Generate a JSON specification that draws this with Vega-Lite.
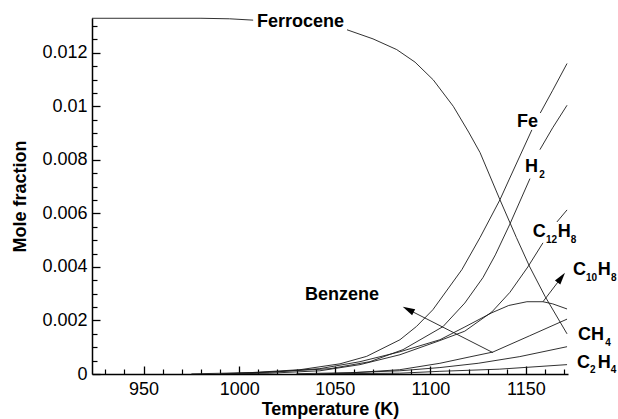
{
  "$schema": "https://vega.github.io/schema/vega-lite/v6.json",
  "width": 476,
  "height": 356,
  "autosize": {"type": "none"},
  "padding": {"left": 92, "top": 18, "right": 50, "bottom": 45},
  "config": {
    "view": {"stroke": null},
    "font": "Liberation Sans"
  },
  "datasets": {
    "curves": [
      {"k": "Ferrocene-a", "T": 923, "v": 0.01329},
      {"k": "Ferrocene-a", "T": 980, "v": 0.01329},
      {"k": "Ferrocene-a", "T": 995, "v": 0.01327},
      {"k": "Ferrocene-a", "T": 1007.3, "v": 0.01322},
      {"k": "Ferrocene-b", "T": 1056.4, "v": 0.01286},
      {"k": "Ferrocene-b", "T": 1070, "v": 0.01252},
      {"k": "Ferrocene-b", "T": 1082.4, "v": 0.01212},
      {"k": "Ferrocene-b", "T": 1092, "v": 0.01165},
      {"k": "Ferrocene-b", "T": 1101.5, "v": 0.01099},
      {"k": "Ferrocene-b", "T": 1112, "v": 0.0100},
      {"k": "Ferrocene-b", "T": 1120, "v": 0.00904},
      {"k": "Ferrocene-b", "T": 1126, "v": 0.00827},
      {"k": "Ferrocene-b", "T": 1136.4, "v": 0.00651},
      {"k": "Ferrocene-b", "T": 1145, "v": 0.0051},
      {"k": "Ferrocene-b", "T": 1152, "v": 0.0040},
      {"k": "Ferrocene-b", "T": 1160, "v": 0.0029},
      {"k": "Ferrocene-b", "T": 1171.5, "v": 0.0015},
      {"k": "Fe-a", "T": 975, "v": 0.000005},
      {"k": "Fe-a", "T": 1005.6, "v": 0.00005},
      {"k": "Fe-a", "T": 1031.8, "v": 0.00016},
      {"k": "Fe-a", "T": 1052.7, "v": 0.00038},
      {"k": "Fe-a", "T": 1066.7, "v": 0.00066},
      {"k": "Fe-a", "T": 1084.1, "v": 0.00128},
      {"k": "Fe-a", "T": 1092.8, "v": 0.00178},
      {"k": "Fe-a", "T": 1101.3, "v": 0.0024},
      {"k": "Fe-a", "T": 1116.5, "v": 0.0039},
      {"k": "Fe-a", "T": 1126, "v": 0.0051},
      {"k": "Fe-a", "T": 1136.4, "v": 0.00651},
      {"k": "Fe-a", "T": 1141.1, "v": 0.00725},
      {"k": "Fe-a", "T": 1153.1, "v": 0.00912},
      {"k": "Fe-b", "T": 1157.5, "v": 0.00975},
      {"k": "Fe-b", "T": 1164, "v": 0.0106},
      {"k": "Fe-b", "T": 1171.5, "v": 0.0116},
      {"k": "H2-a", "T": 995, "v": 0.00001},
      {"k": "H2-a", "T": 1021.3, "v": 0.00009},
      {"k": "H2-a", "T": 1047.5, "v": 0.0002},
      {"k": "H2-a", "T": 1068.4, "v": 0.00046},
      {"k": "H2-a", "T": 1085.7, "v": 0.00091},
      {"k": "H2-a", "T": 1106.6, "v": 0.00177},
      {"k": "H2-a", "T": 1118, "v": 0.00265},
      {"k": "H2-a", "T": 1127.5, "v": 0.0036},
      {"k": "H2-a", "T": 1134, "v": 0.00445},
      {"k": "H2-a", "T": 1141.6, "v": 0.0056},
      {"k": "H2-a", "T": 1152.1, "v": 0.0073},
      {"k": "H2-b", "T": 1157.3, "v": 0.00838},
      {"k": "H2-b", "T": 1164, "v": 0.0092},
      {"k": "H2-b", "T": 1171.5, "v": 0.01004},
      {"k": "C12H8-a", "T": 1000, "v": 0.00001},
      {"k": "C12H8-a", "T": 1016, "v": 0.00003},
      {"k": "C12H8-a", "T": 1042.2, "v": 0.00012},
      {"k": "C12H8-a", "T": 1063.2, "v": 0.00035},
      {"k": "C12H8-a", "T": 1084.1, "v": 0.00072},
      {"k": "C12H8-a", "T": 1105, "v": 0.00125},
      {"k": "C12H8-a", "T": 1118, "v": 0.0016},
      {"k": "C12H8-a", "T": 1132.2, "v": 0.00232},
      {"k": "C12H8-a", "T": 1141.6, "v": 0.00305},
      {"k": "C12H8-a", "T": 1151, "v": 0.004},
      {"k": "C12H8-a", "T": 1158.9, "v": 0.0049},
      {"k": "C12H8-b", "T": 1166.2, "v": 0.00568},
      {"k": "C12H8-b", "T": 1171.5, "v": 0.00613},
      {"k": "C10H8", "T": 990, "v": 0.00001},
      {"k": "C10H8", "T": 1016, "v": 0.00007},
      {"k": "C10H8", "T": 1042.2, "v": 0.0002},
      {"k": "C10H8", "T": 1063.2, "v": 0.00046},
      {"k": "C10H8", "T": 1084.1, "v": 0.00083},
      {"k": "C10H8", "T": 1105, "v": 0.00128},
      {"k": "C10H8", "T": 1118.1, "v": 0.00176},
      {"k": "C10H8", "T": 1132.2, "v": 0.00229},
      {"k": "C10H8", "T": 1141, "v": 0.00256},
      {"k": "C10H8", "T": 1150.5, "v": 0.0027},
      {"k": "C10H8", "T": 1158.9, "v": 0.0027},
      {"k": "C10H8", "T": 1164, "v": 0.00262},
      {"k": "C10H8", "T": 1171.5, "v": 0.00243},
      {"k": "Benzene", "T": 1040, "v": 0.0},
      {"k": "Benzene", "T": 1058, "v": 0.00004},
      {"k": "Benzene", "T": 1084, "v": 0.00016},
      {"k": "Benzene", "T": 1105, "v": 0.0004},
      {"k": "Benzene", "T": 1120.7, "v": 0.00064},
      {"k": "Benzene", "T": 1132.7, "v": 0.00082},
      {"k": "Benzene", "T": 1152, "v": 0.00143},
      {"k": "Benzene", "T": 1171.5, "v": 0.00205},
      {"k": "CH4", "T": 1030, "v": 0.00001},
      {"k": "CH4", "T": 1058, "v": 0.00005},
      {"k": "CH4", "T": 1084, "v": 0.00012},
      {"k": "CH4", "T": 1105, "v": 0.00024},
      {"k": "CH4", "T": 1125, "v": 0.0004},
      {"k": "CH4", "T": 1146.8, "v": 0.00065},
      {"k": "CH4", "T": 1171.5, "v": 0.00102},
      {"k": "C2H4", "T": 1050, "v": 0.00001},
      {"k": "C2H4", "T": 1084, "v": 0.00003},
      {"k": "C2H4", "T": 1105, "v": 0.0001},
      {"k": "C2H4", "T": 1136, "v": 0.00018},
      {"k": "C2H4", "T": 1171.5, "v": 0.00035}
    ],
    "arrows": [
      {"k": "benz", "T": 1132.7, "v": 0.0008},
      {"k": "benz", "T": 1088.4, "v": 0.00241},
      {"k": "c10", "T": 1158.9, "v": 0.0027},
      {"k": "c10", "T": 1168.5, "v": 0.0036}
    ],
    "heads": [
      {"k": "benz", "T": 1088.4, "v": 0.00241},
      {"k": "c10", "T": 1168.5, "v": 0.0036}
    ],
    "labels": [
      {"label": "Ferrocene", "T": 1009.3, "v": 0.01298},
      {"label": "Fe", "T": 1145.3, "v": 0.00924},
      {"label": "H", "T": 1149.5, "v": 0.00756},
      {"label": "C", "T": 1153.6, "v": 0.00513},
      {"label": "H", "T": 1166.7, "v": 0.00513},
      {"label": "C", "T": 1174.6, "v": 0.00371},
      {"label": "H", "T": 1187.6, "v": 0.00371},
      {"label": "CH", "T": 1177.2, "v": 0.00128},
      {"label": "C", "T": 1176.7, "v": 0.00024},
      {"label": "H", "T": 1187.6, "v": 0.00024},
      {"label": "Benzene", "T": 1034.4, "v": 0.00278}
    ],
    "subs": [
      {"label": "2", "T": 1157.0, "v": 0.00734},
      {"label": "12", "T": 1160.5, "v": 0.00491},
      {"label": "8", "T": 1173.5, "v": 0.00491},
      {"label": "10", "T": 1181.4, "v": 0.00349},
      {"label": "8", "T": 1194.5, "v": 0.00349},
      {"label": "4", "T": 1191.5, "v": 0.00106},
      {"label": "2", "T": 1183.5, "v": 0.00002},
      {"label": "4", "T": 1194.4, "v": 0.00002}
    ]
  },
  "layer": [
    {
      "data": {"name": "curves"},
      "mark": {"type": "line", "stroke": "#1a1a1a", "strokeWidth": 0.9},
      "encoding": {
        "x": {"field": "T", "type": "quantitative", "scale": {"domain": [923, 1172], "nice": false, "zero": false},
          "axis": {"orient": "bottom", "grid": false, "values": [950, 1000, 1050, 1100, 1150], "format": "d",
            "tickSize": {"condition": {"test": "datum.value % 50 === 0", "value": -8}, "value": -8},
            "tickColor": "black", "tickWidth": 1.3, "domainColor": "black", "domainWidth": 1.5,
            "labelFontSize": 18, "labelColor": "black", "labelPadding": 14,
            "title": "Temperature (K)", "titleColor": "black", "titleFontSize": 18, "titleFontWeight": "bold", "titlePadding": 2}},
        "y": {"field": "v", "type": "quantitative", "scale": {"domain": [0, 0.0133], "nice": false, "zero": false},
          "axis": {"orient": "left", "grid": false, "values": [0, 0.002, 0.004, 0.006, 0.008, 0.01, 0.012], "format": ".3~f",
            "tickSize": {"condition": {"test": "datum.value >= 0", "value": -8}, "value": -8},
            "tickColor": "black", "tickWidth": 1.3, "domainColor": "black", "domainWidth": 1.5,
            "labelFontSize": 18, "labelColor": "black", "labelPadding": 13,
            "title": "Mole fraction", "titleColor": "black", "titleFontSize": 18, "titleFontWeight": "bold", "titlePadding": 12}},
        "detail": {"field": "k"}
      }
    },
    {
      "data": {"name": "arrows"},
      "mark": {"type": "line", "stroke": "#1a1a1a", "strokeWidth": 0.9},
      "encoding": {
        "x": {"field": "T", "type": "quantitative", "scale": {"domain": [923, 1172], "nice": false, "zero": false},
          "axis": {"orient": "bottom", "offset": -5, "grid": false, "values": [930, 940, 960, 970, 980, 990, 1010, 1020, 1030, 1040, 1060, 1070, 1080, 1090, 1110, 1120, 1130, 1140, 1160, 1170], "tickSize": 5, "tickColor": "black", "tickWidth": 1.2, "labels": false, "domain": false, "title": null}},
        "y": {"field": "v", "type": "quantitative", "scale": {"domain": [0, 0.0133], "nice": false, "zero": false},
          "axis": {"orient": "left", "offset": -5, "grid": false, "values": [0.0005, 0.001, 0.0015, 0.0025, 0.003, 0.0035, 0.0045, 0.005, 0.0055, 0.0065, 0.007, 0.0075, 0.0085, 0.009, 0.0095, 0.0105, 0.011, 0.0115, 0.0125, 0.013], "tickSize": 5, "tickColor": "black", "tickWidth": 1.2, "labels": false, "domain": false, "title": null}},
        "detail": {"field": "k"}
      }
    },
    {
      "data": {"name": "heads"},
      "transform": [{"filter": "datum.k === 'benz'"}],
      "mark": {"type": "point", "shape": "M0,-1L0.55,1L-0.55,1Z", "size": 150, "filled": true, "fill": "black", "stroke": null, "opacity": 1, "angle": 297},
      "encoding": {
        "x": {"field": "T", "type": "quantitative", "scale": {"domain": [923, 1172], "nice": false, "zero": false}, "axis": null},
        "y": {"field": "v", "type": "quantitative", "scale": {"domain": [0, 0.0133], "nice": false, "zero": false}, "axis": null}
      }
    },
    {
      "data": {"name": "heads"},
      "transform": [{"filter": "datum.k === 'c10'"}],
      "mark": {"type": "point", "shape": "M0,-1L0.55,1L-0.55,1Z", "size": 150, "filled": true, "fill": "black", "stroke": null, "opacity": 1, "angle": 37},
      "encoding": {
        "x": {"field": "T", "type": "quantitative", "scale": {"domain": [923, 1172], "nice": false, "zero": false}, "axis": null},
        "y": {"field": "v", "type": "quantitative", "scale": {"domain": [0, 0.0133], "nice": false, "zero": false}, "axis": null}
      }
    },
    {
      "data": {"name": "labels"},
      "mark": {"type": "text", "fontSize": 18, "fontWeight": "bold", "align": "left", "baseline": "alphabetic", "font": "Liberation Sans", "color": "black"},
      "encoding": {
        "x": {"field": "T", "type": "quantitative", "scale": {"domain": [923, 1172], "nice": false, "zero": false}, "axis": null},
        "y": {"field": "v", "type": "quantitative", "scale": {"domain": [0, 0.0133], "nice": false, "zero": false}, "axis": null},
        "text": {"field": "label"}
      }
    },
    {
      "data": {"name": "subs"},
      "mark": {"type": "text", "fontSize": 10, "fontWeight": "bold", "align": "left", "baseline": "alphabetic", "font": "Liberation Sans", "color": "black"},
      "encoding": {
        "x": {"field": "T", "type": "quantitative", "scale": {"domain": [923, 1172], "nice": false, "zero": false}, "axis": null},
        "y": {"field": "v", "type": "quantitative", "scale": {"domain": [0, 0.0133], "nice": false, "zero": false}, "axis": null},
        "text": {"field": "label"}
      }
    }
  ],
  "resolve": {"axis": {"x": "independent", "y": "independent"}}
}
